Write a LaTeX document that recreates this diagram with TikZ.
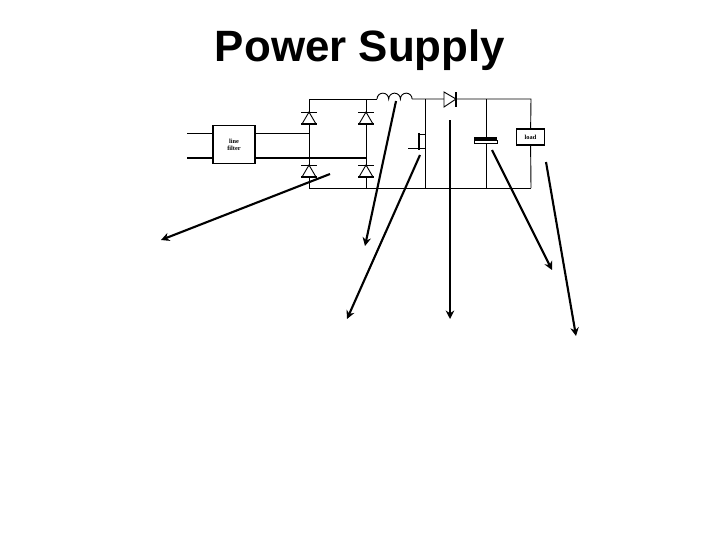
\documentclass[tikz,border=0pt]{standalone}
\usepackage{fontspec}
\setsansfont{Liberation Sans}
\setmainfont{Liberation Serif}
\usetikzlibrary{arrows.meta}

\tikzset{
	wire/.style = {line width = 0.65pt},
	heavywire/.style = {line width = 1.4pt},
	pointer/.style = {line width = 1.5pt, -{Stealth[length = 6pt, width = 6pt]}},
	smallbox/.style = {draw, line width = 0.8pt, fill = white, font = \fontsize{4.5}{5}\selectfont\bfseries, align = center, inner sep = 0pt}
}

\begin{document}
\begin{tikzpicture}[x = 0.025cm, y = -0.025cm]

\useasboundingbox (0,0) rectangle (720,540);

\node[font = \sffamily\bfseries\fontsize{31.2}{36}\selectfont] (title) at (360, 50) {Power Supply};

% corners of the rails
\coordinate (topA) at (309, 99);
\coordinate (botA) at (309, 188);
\coordinate (topB) at (366, 99);
\coordinate (botB) at (366, 188);
\coordinate (indL) at (377, 99);
\coordinate (indR) at (412, 99);
\coordinate (topD) at (425, 99);
\coordinate (botD) at (425, 188);
\coordinate (topC) at (486, 99);
\coordinate (botC) at (486, 188);
\coordinate (topR) at (531, 99);
\coordinate (botR) at (531, 188);
\coordinate (inA) at (187, 133);
\coordinate (inB) at (187, 158);

\node[smallbox, minimum width = 1.05cm, minimum height = 0.93cm] (filter) at (234, 144.5) {line\\filter};
\node[smallbox, minimum width = 0.68cm, minimum height = 0.4cm] (load) at (530.5, 137) {load};

\draw[wire] (topA) -- (indL);
\draw[wire] (botA) -- (botR);
\draw[wire] (topA) -- (botA);
\draw[wire] (topB) -- (botB);
\draw[wire] (indR) -- (topR) -- (load) -- (botR);
\draw[wire] (topD) -- (botD);
\draw[wire] (topC) -- (botC);

\draw[wire] (inA) -- (filter.west |- inA);
\draw[wire] (filter.east |- inA) -- (topA |- inA);
\draw[heavywire] (inB) -- (filter.west |- inB);
\draw[heavywire] (filter.east |- inB) -- (topB |- inB);

% bridge diodes
\foreach \x in {309, 366} {
	\foreach \y in {112, 165} {
		\draw[wire, fill = white] (\x, \y) -- (\x - 7, \y + 12) -- (\x + 7, \y + 12) -- cycle;
		\draw[wire] (\x - 8, \y) -- (\x + 8, \y);
		\draw[heavywire] (\x - 8, \y + 12) -- (\x + 8, \y + 12);
	}
}

% inductor
\draw[wire, fill = white] (indL) arc[start angle = 180, end angle = 360, radius = 5.85]
	arc[start angle = 180, end angle = 360, radius = 5.85]
	arc[start angle = 180, end angle = 360, radius = 5.85];

% series diode
\draw[wire, fill = white] (444, 92) -- (456, 99) -- (444, 107) -- cycle;
\draw[heavywire] (456, 92) -- (456, 107);

% switch
\draw[wire] (408, 148) -- (418, 148);
\draw[line width = 2pt] (419, 133) -- (419, 150);
\draw[wire] (419, 134) -- (425, 134);
\draw[wire] (419, 148) -- (425, 148);

% capacitor
\draw[wire, fill = white] (474, 140) rectangle (497, 143);
\draw[line width = 1.6pt] (474, 138.5) -- (497, 138.5);

% pointers
\coordinate (startA) at (330, 174);
\coordinate (endA) at (161, 240);
\coordinate (startB) at (396, 101);
\coordinate (endB) at (365, 246);
\coordinate (startC) at (420, 155);
\coordinate (endC) at (347, 319);
\coordinate (startD) at (450, 120);
\coordinate (endD) at (450, 319);
\coordinate (startE) at (492, 150);
\coordinate (endE) at (552, 270);
\coordinate (startF) at (546, 162);
\coordinate (endF) at (576, 336);

\foreach \i in {A, B, C, D, E, F} {
	\draw[pointer] (start\i) -- (end\i);
}

\end{tikzpicture}
\end{document}
